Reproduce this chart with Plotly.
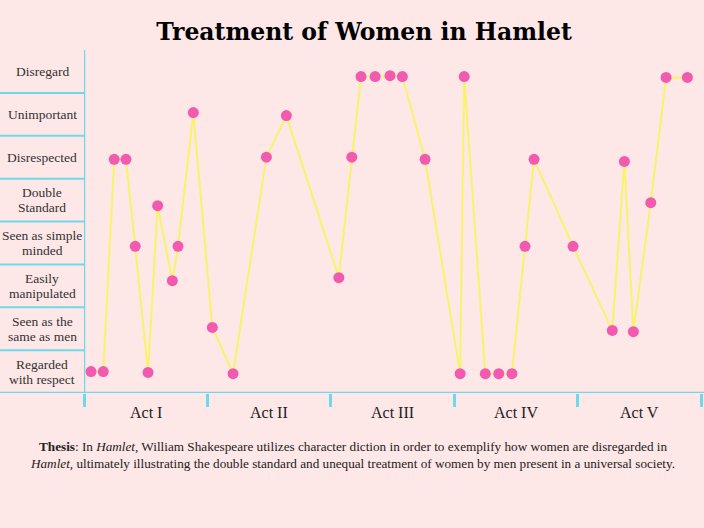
import plotly.graph_objects as go

# ---- data ----
categories = ["Regarded<br>with respect", "Seen as the<br>same as men", "Easily<br>manipulated",
              "Seen as simple<br>minded", "Double<br>Standard", "Disrespected",
              "Unimportant", "Disregard"]
acts = ["Act I", "Act II", "Act III", "Act IV", "Act V"]

# position through the play (in acts) and treatment level (1 = Regarded with respect ... 8 = Disregard)
play_position = [0.057, 0.156, 0.245, 0.340, 0.415, 0.519, 0.597, 0.716, 0.762, 0.886,
                 1.040, 1.208, 1.478, 1.640, 2.065, 2.170, 2.245, 2.359, 2.480, 2.580,
                 2.764, 3.048, 3.081, 3.252, 3.361, 3.468, 3.574, 3.647, 3.963, 4.281,
                 4.379, 4.452, 4.593, 4.717, 4.890]
treatment = [1.0, 1.0, 5.95, 5.95, 3.92, 0.98, 4.87, 3.12, 3.92, 7.04,
             2.03, 0.95, 6.0, 6.97, 3.19, 6.0, 7.88, 7.88, 7.9, 7.88,
             5.95, 0.95, 7.88, 0.95, 0.95, 0.95, 3.92, 5.95, 3.92, 1.96,
             5.9, 1.93, 4.94, 7.86, 7.86]

# ---- style ----
BG = "#fde7e7"
CYAN = "#6fd9ec"
PINK = "#f25aaf"
YELLOW = "#f8f46a"
SERIF = "Liberation Serif, DejaVu Serif, serif"

L, R, T, B = 84, 3, 50, 135
W, H = 704, 528
pw = W - L - R
ph = H - T - B

fig = go.Figure()
fig.add_trace(go.Scatter(
    x=play_position, y=treatment, mode="lines+markers",
    line=dict(color=YELLOW, width=2),
    marker=dict(color=PINK, size=11, line=dict(width=0)),
    hoverinfo="skip", showlegend=False))

shapes = []
xl = -L / pw
xr = 1 + R / pw
# band separators in label column
for k in range(1, len(categories)):
    shapes.append(dict(type="line", xref="paper", yref="y", x0=xl, x1=0,
                       y0=k + 0.5, y1=k + 0.5, line=dict(color=CYAN, width=2)))
# bottom baseline across full width
shapes.append(dict(type="line", xref="paper", yref="y", x0=xl, x1=xr,
                   y0=0.5, y1=0.5, line=dict(color=CYAN, width=2.5)))
# vertical axis line
shapes.append(dict(type="line", xref="x", yref="y", x0=0, x1=0,
                   y0=0.5, y1=len(categories) + 0.5, line=dict(color=CYAN, width=2.5)))

annotations = []
for i, c in enumerate(categories):
    lines = c.split("<br>")
    n = len(lines)
    for j, ln in enumerate(lines):
        shift = ((n - 1) / 2 - j) * 15
        annotations.append(dict(xref="paper", yref="y", x=xl / 2, y=i + 1, yshift=shift, text=ln,
                                showarrow=False, xanchor="center", yanchor="middle", align="center",
                                font=dict(family=SERIF, size=13.5, color="#333333")))
for i, a in enumerate(acts):
    annotations.append(dict(xref="x", yref="paper", x=i + 0.5, y=-19 / ph, text=a,
                            showarrow=False, xanchor="center", yanchor="middle",
                            font=dict(family=SERIF, size=16, color="#222222")))

thesis = ("<b>Thesis</b>: In <i>Hamlet</i>, William Shakespeare utilizes character diction in order to exemplify how women are disregarded in<br>"
          "<i>Hamlet</i>, ultimately illustrating the double standard and unequal treatment of women by men present in a universal society.")
annotations.append(dict(xref="paper", yref="paper", x=(W / 2 - L) / pw, y=-(455 - T - ph) / ph,
                        text=thesis, showarrow=False, xanchor="center", yanchor="middle", align="center",
                        font=dict(family=SERIF, size=13.2, color="#222222")))

fig.update_layout(
    width=W, height=H,
    margin=dict(l=L, r=R, t=T, b=B),
    paper_bgcolor=BG, plot_bgcolor=BG,
    title=dict(text="<b>Treatment of Women in Hamlet</b>", x=(W / 2 + 12) / W, xanchor="center",
               y=1 - 32 / H, yanchor="middle",
               font=dict(family="DejaVu Serif, serif", size=23.5, color="#000000")),
    xaxis=dict(range=[0, 5], showgrid=False, zeroline=False, showline=False,
               tickvals=[0, 1, 2, 3, 4, 5], ticktext=[""] * 6,
               ticks="outside", ticklen=13, tickwidth=2.5, tickcolor=CYAN, fixedrange=True),
    yaxis=dict(range=[0.5, len(categories) + 0.5], showgrid=False, zeroline=False, showline=False,
               showticklabels=False, ticks="", fixedrange=True),
    shapes=shapes, annotations=annotations,
)

fig.write_html("out.html", config={"displayModeBar": False},
               post_script="document.body.style.margin='0';document.body.style.background='#fde7e7';")
